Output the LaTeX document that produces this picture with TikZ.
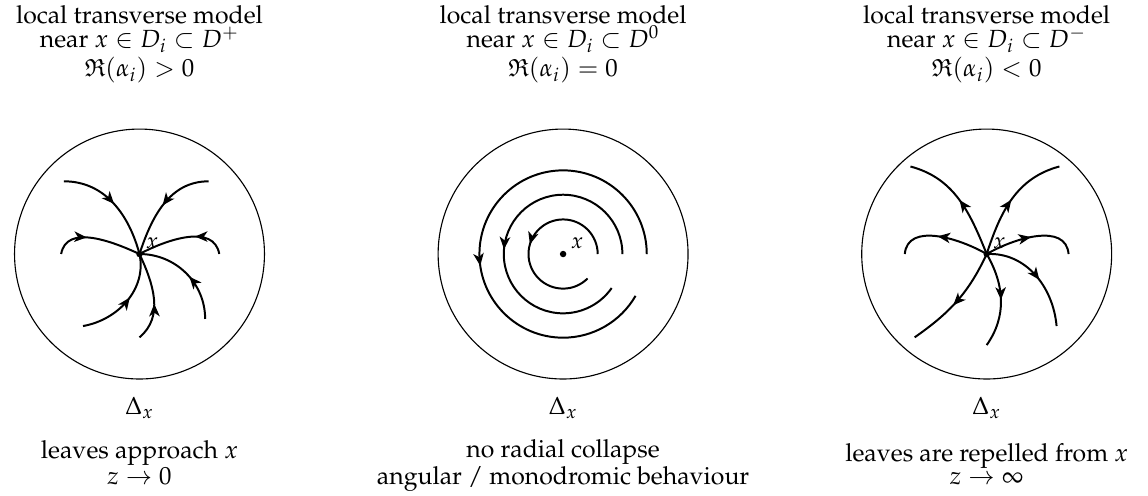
\documentclass[tikz,border=0pt]{standalone}
\usepackage[T1]{fontenc}
\usepackage{mathpazo}
\usepackage{amssymb}
\usepackage{tikz}
\usetikzlibrary{arrows.meta, decorations.markings}

\tikzset{
  disc/.style={line width=0.45pt},
  leaf/.style={thick, decoration={markings,
      mark=at position #1 with {\arrow{Stealth[length=5pt,width=4.2pt,inset=1.4pt]}}},
    postaction={decorate}},
  leaf/.default=0.5,
  caption/.style={align=center, inner sep=0pt, font=\fontsize{10}{9.6}\selectfont},
  ptlabel/.style={inner sep=0pt, font=\small}
}

\begin{document}
\begin{tikzpicture}
  \useasboundingbox (-1.976,-3.414) rectangle (14.285,3.598);
  % D^+ : anziehend
  \begin{scope}
    \node[caption, anchor=base] (headP) at (0,2.93) {local transverse model\\near $x\in D_i\subset D^+$};
    \node[caption, anchor=base] (condP) at (0,2.51) {$\mathfrak{R}(\alpha_i)>0$};
    \draw[disc] (0,0) circle (1.77);
    \coordinate (xP) at (0,0);
    \draw[leaf=0.5] (-1.07,1.03) to[out=0,in=105] (xP);
    \draw[leaf=0.5] (0.98,1.03) to[out=180,in=72] (xP);
    \draw[leaf=0.38] (-1.11,0) to[out=80,in=155] (xP);
    \draw[leaf=0.36] (1.13,0) to[out=100,in=28] (xP);
    \draw[leaf=0.55] (-0.80,-1.02) to[out=10,in=-78] (xP);
    \draw[leaf=0.42] (0,-1.18) to[out=40,in=-65] (xP);
    \draw[leaf=0.45] (0.93,-0.92) to[out=90,in=0] (xP);
    \fill (xP) circle (1.3pt);
    \node[ptlabel] (lblP) at (0.18,0.16) {$x$};
    \node[caption, anchor=base] (deltaP) at (0,-2.28) {$\Delta_x$};
    \node[caption, anchor=base] (noteP) at (0,-3.27) {leaves approach $x$\\$z\to 0$};
  \end{scope}
  % D^0 : rotierend
  \begin{scope}[xshift=6cm]
    \node[caption, anchor=base] (headZ) at (0,2.93) {local transverse model\\near $x\in D_i\subset D^0$};
    \node[caption, anchor=base] (condZ) at (0,2.51) {$\mathfrak{R}(\alpha_i)=0$};
    \draw[disc] (0,0) circle (1.77);
    \coordinate (xZ) at (0,0);
    \draw[leaf=0.52] (0.49,0) arc(0:315:0.49);
    \draw[leaf=0.54] (0.84,0) arc(0:325:0.84);
    \draw[leaf=0.57] (1.185,0) arc(0:330:1.185);
    \fill (xZ) circle (1.3pt);
    \node[ptlabel] (lblZ) at (0.2,0.16) {$x$};
    \node[caption, anchor=base] (deltaZ) at (0,-2.28) {$\Delta_x$};
    \node[caption, anchor=base] (noteZ) at (0,-3.27) {no radial collapse\\angular / monodromic behaviour};
  \end{scope}
  % D^- : abstossend
  \begin{scope}[xshift=12cm]
    \node[caption, anchor=base] (headM) at (0,2.93) {local transverse model\\near $x\in D_i\subset D^-$};
    \node[caption, anchor=base] (condM) at (0,2.51) {$\mathfrak{R}(\alpha_i)<0$};
    \draw[disc] (0,0) circle (1.77);
    \coordinate (xM) at (0,0);
    \draw[leaf=0.5] (xM) to[out=112,in=-15] (-1.08,1.24);
    \draw[leaf=0.5] (xM) to[out=72,in=195] (1.03,1.24);
    \draw[leaf=0.55] (xM) to[out=150,in=85] (-1.16,0);
    \draw[leaf=0.5] (xM) to[out=30,in=95] (1.16,0);
    \draw[leaf=0.55] (xM) to[out=-115,in=35] (-1.02,-1.18);
    \draw[leaf=0.5] (xM) to[out=-60,in=55] (0,-1.29);
    \draw[leaf=0.55] (xM) to[out=3,in=95] (0.99,-1.02);
    \fill (xM) circle (1.3pt);
    \node[ptlabel] (lblM) at (0.18,0.16) {$x$};
    \node[caption, anchor=base] (deltaM) at (0,-2.28) {$\Delta_x$};
    \node[caption, anchor=base] (noteM) at (0,-3.27) {leaves are repelled from $x$\\$z\to\infty$};
  \end{scope}
\end{tikzpicture}
\end{document}
